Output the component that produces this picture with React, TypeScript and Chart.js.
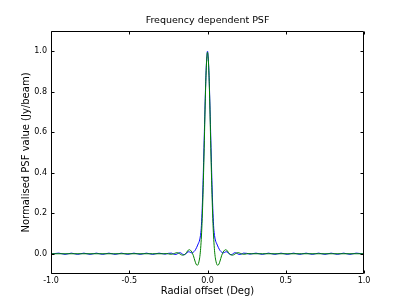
import { useEffect, useRef } from 'react';
import { Chart, registerables } from 'chart.js';

Chart.register(...registerables);

const chartTitle = 'Frequency dependent PSF';
const xAxisLabel = 'Radial offset (Deg)';
const yAxisLabel = 'Normalised PSF value (Jy/beam)';
const xTickValues = [-1.0, -0.5, 0.0, 0.5, 1.0];
const yTickValues = [0.0, 0.2, 0.4, 0.6, 0.8, 1.0];

const greenOffsets = [
  -1.0, -0.8, -0.6, -0.45, -0.35, -0.28,
  -0.26, -0.24, -0.225, -0.21, -0.195, -0.18, -0.17, -0.16, -0.15, -0.14,
  -0.127, -0.118, -0.11, -0.1, -0.09, -0.08, -0.073, -0.066, -0.06, -0.055,
  -0.05, -0.045, -0.04, -0.035, -0.03, -0.025, -0.02, -0.015, -0.01, -0.005,
  0,
  0.005, 0.01, 0.015, 0.02, 0.025, 0.03, 0.035, 0.04, 0.045, 0.05,
  0.055, 0.06, 0.066, 0.073, 0.08, 0.09, 0.1, 0.11, 0.118, 0.127,
  0.14, 0.15, 0.16, 0.17, 0.18, 0.195, 0.21, 0.225, 0.24, 0.26,
  0.28, 0.35, 0.45, 0.6, 0.8, 1.0,
];
const greenPsf = [
  0, 0, 0, 0, 0, 0,
  0.001, -0.002, -0.002, 0.002, 0.005, 0.001, -0.004, -0.007, -0.005, 0,
  0.014, 0.02, 0.018, 0.008, -0.01, -0.036, -0.051, -0.057, -0.053, -0.04,
  -0.02, 0.015, 0.07, 0.15, 0.26, 0.4, 0.56, 0.73, 0.87, 0.96,
  0.995,
  0.96, 0.87, 0.73, 0.56, 0.4, 0.26, 0.15, 0.07, 0.015, -0.02,
  -0.04, -0.053, -0.057, -0.051, -0.036, -0.01, 0.008, 0.018, 0.02, 0.014,
  0, -0.005, -0.007, -0.004, 0.001, 0.005, 0.002, -0.002, -0.002, 0.001,
  0, 0, 0, 0, 0, 0,
];

const blueOffsets = [
  -1.0, -0.95, -0.91, -0.87, -0.83, -0.79, -0.75, -0.71, -0.67, -0.63, -0.59,
  -0.55, -0.51, -0.47, -0.43, -0.39, -0.35, -0.31, -0.27, -0.25, -0.23,
  -0.215, -0.2, -0.19, -0.18, -0.17, -0.16, -0.15, -0.14, -0.13, -0.12,
  -0.11, -0.1, -0.09, -0.08, -0.07, -0.06, -0.05, -0.045, -0.04, -0.035,
  -0.03, -0.025, -0.02, -0.015, -0.01, -0.005,
  0,
  0.005, 0.01, 0.015, 0.02, 0.025, 0.03, 0.035, 0.04, 0.045, 0.05,
  0.06, 0.07, 0.08, 0.09, 0.1, 0.11, 0.12, 0.13, 0.14, 0.15,
  0.16, 0.17, 0.18, 0.19, 0.2, 0.215, 0.23, 0.25, 0.27, 0.31,
  0.35, 0.39, 0.43, 0.47, 0.51, 0.55, 0.59, 0.63, 0.67, 0.71,
  0.75, 0.79, 0.83, 0.87, 0.91, 0.95, 1.0,
];
const bluePsf = [
  -0.002, 0.003, -0.003, 0.003, -0.003, 0.003, -0.003, 0.003, -0.003, 0.003, -0.003,
  0.003, -0.003, 0.003, -0.003, 0.003, -0.003, 0.003, -0.002, 0.002, 0.003,
  -0.002, -0.003, 0.001, 0.005, 0.004, -0.002, -0.005, -0.002, 0.006, 0.01,
  0.007, 0.004, 0.008, 0.016, 0.03, 0.048, 0.068, 0.09, 0.125, 0.2,
  0.31, 0.45, 0.6, 0.75, 0.88, 0.965,
  1.0,
  0.965, 0.88, 0.75, 0.6, 0.45, 0.31, 0.2, 0.125, 0.09, 0.068,
  0.048, 0.03, 0.016, 0.008, 0.004, 0.007, 0.01, 0.006, -0.002, -0.005,
  -0.002, 0.004, 0.005, 0.001, -0.003, -0.002, 0.003, 0.002, -0.002, 0.003,
  -0.003, 0.003, -0.003, 0.003, -0.003, 0.003, -0.003, 0.003, -0.003, 0.003,
  -0.003, 0.003, -0.003, 0.003, -0.003, 0.003, -0.002,
];

const FONT = "'DejaVu Sans', sans-serif";

const framePlugin = {
  id: 'mplFrame',
  afterDatasetsDraw(chart: any) {
    const { ctx, chartArea: a, scales } = chart;
    const L = Math.round(a.left) + 0.5;
    const R = Math.round(a.right) - 0.5;
    const T = Math.round(a.top) + 0.5;
    const B = Math.round(a.bottom) - 0.5;
    ctx.save();
    ctx.strokeStyle = '#000';
    ctx.lineWidth = 1;
    ctx.beginPath();
    ctx.rect(L, T, R - L, B - T);
    ctx.stroke();
    const tl = 3;
    ctx.beginPath();
    for (const v of xTickValues) {
      const px = Math.round(scales.x.getPixelForValue(v)) + 0.5;
      ctx.moveTo(px, B);
      ctx.lineTo(px, B - tl);
      ctx.moveTo(px, T);
      ctx.lineTo(px, T + tl);
    }
    for (const v of yTickValues) {
      const py = Math.round(scales.y.getPixelForValue(v)) + 0.5;
      ctx.moveTo(L, py);
      ctx.lineTo(L + tl, py);
      ctx.moveTo(R, py);
      ctx.lineTo(R - tl, py);
    }
    ctx.stroke();
    ctx.restore();
  },
};

export default function App() {
  const ref = useRef<HTMLCanvasElement | null>(null);
  useEffect(() => {
    document.body.style.margin = '0';
    const canvas = ref.current;
    if (!canvas) return;
    const chart = new Chart(canvas, {
      type: 'line',
      data: {
        datasets: [
          {
            label: 'green',
            data: greenOffsets.map((x, i) => ({ x, y: greenPsf[i] })),
            borderColor: '#008000',
            borderWidth: 1,
            pointRadius: 0,
            fill: false,
            cubicInterpolationMode: 'monotone',
          },
          {
            label: 'blue',
            data: blueOffsets.map((x, i) => ({ x, y: bluePsf[i] })),
            borderColor: '#0000ff',
            borderWidth: 1,
            pointRadius: 0,
            fill: false,
            cubicInterpolationMode: 'monotone',
          },
        ],
      },
      options: {
        responsive: false,
        maintainAspectRatio: false,
        animation: false,
        events: [],
        layout: { padding: { left: 0, right: 40, top: 0, bottom: 0 } },
        plugins: {
          legend: { display: false },
          tooltip: { enabled: false },
          title: {
            display: true,
            fullSize: false,
            text: chartTitle,
            color: '#000',
            font: { family: FONT, size: 9.5, weight: 'normal' },
            padding: { top: 15, bottom: 4.6 },
          },
        },
        scales: {
          x: {
            type: 'linear',
            min: -1,
            max: 1,
            afterBuildTicks: (s: any) => {
              s.ticks = xTickValues.map((v) => ({ value: v }));
            },
            afterFit: (s: any) => {
              s.height = 31;
            },
            grid: { display: false, drawTicks: false },
            border: { display: false },
            ticks: {
              padding: 2,
              color: '#000',
              autoSkip: false,
              maxRotation: 0,
              font: { family: FONT, size: 8 },
              callback: (v: any) => Number(v).toFixed(1),
            },
            title: {
              display: true,
              text: xAxisLabel,
              color: '#000',
              font: { family: FONT, size: 10 },
              padding: { top: 0, bottom: 8 },
            },
          },
          y: {
            type: 'linear',
            min: -0.1,
            max: 1.1,
            afterBuildTicks: (s: any) => {
              s.ticks = yTickValues.map((v) => ({ value: v }));
            },
            afterFit: (s: any) => {
              s.width = 51;
            },
            grid: { display: false, drawTicks: false },
            border: { display: false },
            ticks: {
              padding: 4,
              color: '#000',
              autoSkip: false,
              font: { family: FONT, size: 8 },
              callback: (v: any) => Number(v).toFixed(1),
            },
            title: {
              display: true,
              text: yAxisLabel,
              color: '#000',
              font: { family: FONT, size: 10 },
              padding: { top: 20.5, bottom: 0 },
            },
          },
        },
      },
      plugins: [framePlugin],
    } as any);
    return () => chart.destroy();
  }, []);
  return (
    <div style={{ width: 404, height: 305, background: '#fff' }}>
      <canvas ref={ref} width={404} height={305} style={{ display: 'block' }} />
    </div>
  );
}
